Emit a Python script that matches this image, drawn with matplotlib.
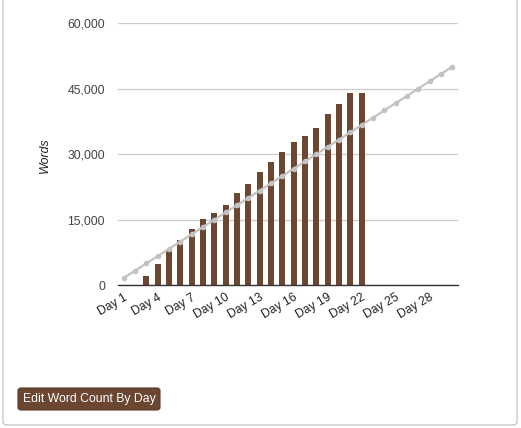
import numpy as np
import matplotlib
matplotlib.use("Agg")
import matplotlib.pyplot as plt
from matplotlib.patches import FancyBboxPatch

plt.rcParams['font.family'] = ['Liberation Sans', 'DejaVu Sans']

# 데이터
days = ["Day 1", "Day 2", "Day 3", "Day 4", "Day 5", "Day 6", "Day 7", "Day 8",
        "Day 9", "Day 10", "Day 11", "Day 12", "Day 13", "Day 14", "Day 15",
        "Day 16", "Day 17", "Day 18", "Day 19", "Day 20", "Day 21", "Day 22",
        "Day 23", "Day 24", "Day 25", "Day 26", "Day 27", "Day 28", "Day 29", "Day 30"]
words = [0, 0, 2130, 4900, 8110, 10400, 12930, 15230, 16450, 18440, 21040,
         23100, 26010, 28300, 30600, 32800, 34200, 36000, 39070, 41360, 44050, 44050,
         0, 0, 0, 0, 0, 0, 0, 0]
target = [1667, 3333, 5000, 6667, 8333, 10000, 11667, 13333, 15000, 16667,
          18333, 20000, 21667, 23333, 25000, 26667, 28333, 30000, 31667, 33333,
          35000, 36667, 38333, 40000, 41667, 43333, 45000, 46667, 48333, 50000]
yticks = [0, 15000, 30000, 45000, 60000]

fig = plt.figure(figsize=(5.21, 4.28), dpi=100)

# 바깥 테두리 박스
box = FancyBboxPatch((3 / 521, 3 / 428), 514 / 521, 450 / 428,
                     boxstyle="round,pad=0,rounding_size=0.008",
                     transform=fig.transFigure, facecolor='none',
                     edgecolor='#c8c8c8', linewidth=1.0, zorder=-1)
fig.patches.append(box)

ax = fig.add_axes([118 / 521, (428 - 285.3) / 428, 340 / 521, 262.3 / 428])
ax.set_facecolor('none')

x = np.arange(len(days))
ax.bar(x, words, width=0.53, color='#6b4631', zorder=2)
ax.plot(x, target, color='#c2c2c2', linewidth=1.6, marker='o', markersize=3,
        zorder=3)

ax.set_xlim(-0.5, len(days) - 0.5)
ax.set_ylim(0, 60000)
ax.set_yticks(yticks)
ax.set_yticklabels([f"{v:,}" for v in yticks], fontsize=8.8, color='#444444')
ax.grid(axis='y', color='#cccccc', linewidth=0.9, zorder=0)
ax.set_axisbelow(True)

ax.set_xticks(x[::3])
ax.set_xticklabels(days[::3], rotation=30, ha='right', rotation_mode='anchor',
                   fontsize=8.7, color='#222222')
ax.tick_params(axis='both', length=0)
ax.tick_params(axis='y', pad=9.4)
ax.tick_params(axis='x', pad=4.5)

for s in ['top', 'right', 'left']:
    ax.spines[s].set_visible(False)
ax.spines['bottom'].set_color('#333333')
ax.spines['bottom'].set_linewidth(1.0)
ax.spines['bottom'].set_zorder(4)

fig.text(45 / 521, 1 - 155 / 428, "Words", rotation=90, style='italic',
         fontsize=8.8, color='#222222', ha='center', va='center')

# 버튼
btn = FancyBboxPatch((18 / 521, 1 - 410 / 428), 142 / 521, 22 / 428,
                     boxstyle="round,pad=0,rounding_size=0.006",
                     transform=fig.transFigure, facecolor='#6b4631',
                     edgecolor='#5a3a28', linewidth=0.8)
fig.patches.append(btn)
fig.text(89 / 521, 1 - 399 / 428, "Edit Word Count By Day", color='white',
         fontsize=8.8, ha='center', va='center')

fig.savefig("out.png", dpi=100)
